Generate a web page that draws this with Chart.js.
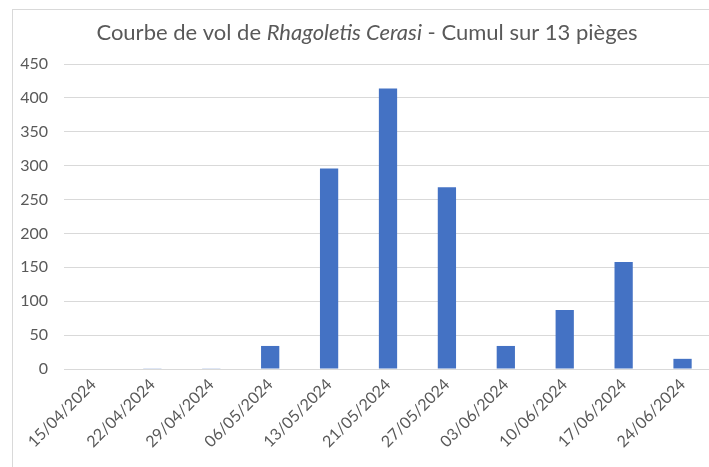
<!DOCTYPE html>
<html>
<head>
<meta charset="utf-8">
<script src="https://cdn.jsdelivr.net/npm/chart.js@4.4.1/dist/chart.umd.min.js"></script>
<style>
  html, body { margin: 0; padding: 0; background: #fff; overflow: hidden; width: 709px; height: 467px; }
  #frame { position: absolute; left: 12px; top: 9px; width: 800px; height: 600px; border: 1px solid #d9d9d9; box-sizing: border-box; }
  #wrap { position: absolute; left: 0; top: 0; width: 712px; height: 467px; }
</style>
</head>
<body>
<div id="frame"></div>
<div id="wrap"><canvas id="c"></canvas></div>
<script>
const categories = ["15/04/2024","22/04/2024","29/04/2024","06/05/2024","13/05/2024","21/05/2024","27/05/2024","03/06/2024","10/06/2024","17/06/2024","24/06/2024"];
const captures = [0, 1, 1, 34, 296, 414, 268, 34, 87, 158, 15];
const yTicks = [0, 50, 100, 150, 200, 250, 300, 350, 400, 450];
const titleParts = [
  { text: "Courbe de vol de ", italic: false },
  { text: "Rhagoletis Cerasi", italic: true },
  { text: " - Cumul sur 13 pièges", italic: false }
];

const FONT = "Lato, 'Noto Sans', sans-serif";
const TEXT = "#595959";

const titlePlugin = {
  id: 'mixedTitle',
  afterDraw(chart) {
    const ctx = chart.ctx;
    const size = 22;
    ctx.save();
    ctx.fillStyle = TEXT;
    ctx.textBaseline = 'alphabetic';
    let total = 0;
    const fonts = titleParts.map(p => (p.italic ? 'italic ' : '') + size + 'px ' + FONT);
    titleParts.forEach((p, i) => { ctx.font = fonts[i]; total += ctx.measureText(p.text).width; });
    let x = 367 - total / 2;
    titleParts.forEach((p, i) => {
      ctx.font = fonts[i];
      ctx.textAlign = 'left';
      ctx.fillText(p.text, x, 40);
      x += ctx.measureText(p.text).width;
    });
    ctx.restore();
  }
};

new Chart(document.getElementById('c'), {
  type: 'bar',
  data: {
    labels: categories,
    datasets: [{
      label: 'Cumul sur 13 pièges',
      data: captures,
      backgroundColor: '#4472c4',
      borderWidth: 0,
      barPercentage: 0.62,
      categoryPercentage: 0.5
    }]
  },
  plugins: [titlePlugin],
  options: {
    responsive: true,
    maintainAspectRatio: false,
    animation: false,
    layout: { padding: { top: 64, left: 0, right: 0, bottom: 0 } },
    plugins: {
      legend: { display: false },
      tooltip: { enabled: false },
      title: { display: false }
    },
    scales: {
      x: {
        grid: { display: false, drawTicks: false },
        border: { display: false },
        ticks: {
          color: TEXT,
          font: { family: FONT, size: 16 },
          maxRotation: 45,
          minRotation: 45,
          padding: 6,
          autoSkip: false
        },
        afterFit(scale) { scale.height = 98; }
      },
      y: {
        min: 0,
        max: 450,
        afterBuildTicks(scale) { scale.ticks = yTicks.map(v => ({ value: v })); },
        grid: { color: '#d9d9d9', lineWidth: 1, drawTicks: false },
        border: { display: false },
        ticks: {
          color: TEXT,
          font: { family: FONT, size: 16 },
          padding: 16
        },
        afterFit(scale) { scale.width = 64; }
      }
    }
  }
});
</script>
</body>
</html>
